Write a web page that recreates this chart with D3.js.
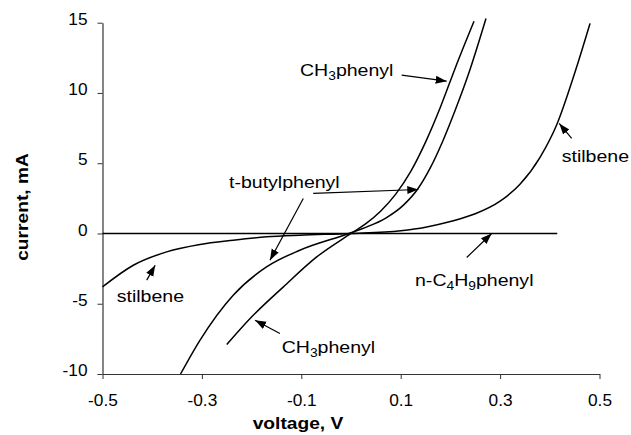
<!DOCTYPE html>
<html>
<head>
<meta charset="utf-8">
<script src="https://cdn.jsdelivr.net/npm/d3@7"></script>
<style>
  body { margin: 0; background: #fff; }
  svg { display: block; }
</style>
</head>
<body>
<svg id="chart" width="631" height="435"></svg>
<script>
// tick values
const xTicks = [-0.5, -0.3, -0.1, 0.1, 0.3, 0.5]
const yTicks = [-10, -5, 0, 5, 10, 15]

// CH3phenyl
const ch3V = [-0.25, -0.203, -0.136, -0.069, 0, 0.03, 0.06, 0.09, 0.12, 0.15, 0.18, 0.21, 0.2475]
const ch3I = [-7.9, -6.05, -3.8, -1.67, 0, 0.7, 1.6, 2.8, 4.4, 6.5, 9.0, 11.8, 15.1]

// t-butylphenyl
const tbuV = [-0.343, -0.304, -0.237, -0.17, -0.103, -0.004, 0.032, 0.07, 0.105, 0.135, 0.16, 0.185, 0.21, 0.235, 0.2716]
const tbuI = [-10, -7.6, -4.39, -2.38, -1.19, 0, 0.47, 1.1, 2.0, 3.2, 4.7, 6.6, 8.8, 11.2, 15.3]

// stilbene
const stilV = [-0.5, -0.438, -0.371, -0.304, -0.237, -0.17, -0.103, 0, 0.1, 0.15, 0.2, 0.25, 0.3, 0.34, 0.38, 0.415, 0.45, 0.481]
const stilI = [-3.8, -2.26, -1.31, -0.78, -0.48, -0.24, -0.12, 0, 0.2, 0.45, 0.85, 1.4, 2.3, 3.5, 5.4, 7.83, 11.4, 14.95]

// n-C4H9phenyl
const nbuV = [-0.5, -0.3, -0.1, 0.1, 0.3, 0.415]
const nbuI = [0, 0, 0, 0, 0, 0]

// labels: text parts ([string, isSub]), anchor in data units, arrows [from, to] in data units
const notes = [
  { parts: [['CH', 0], ['3', 1], ['phenyl', 0]], at: [-0.1026, 11.2], arrows: [[[0.102, 11.27], [0.1925, 10.84]]] },
  { parts: [['stilbene', 0]], at: [0.424, 5.07], arrows: [[[0.444, 6.76], [0.419, 7.83]]] },
  { parts: [['t-butylphenyl', 0]], at: [-0.2455, 3.27], arrows: [[[-0.096, 2.49], [-0.163, -1.9]], [[-0.076, 2.85], [0.1354, 3.13]]] },
  { parts: [['n-C', 0], ['4', 1], ['H', 0], ['9', 1], ['phenyl', 0]], at: [0.1288, -3.75], arrows: [[[0.2328, -1.71], [0.283, 0]]] },
  { parts: [['CH', 0], ['3', 1], ['phenyl', 0]], at: [-0.1394, -8.52], arrows: [[[-0.143, -7.12], [-0.193, -6.17]]] },
  { parts: [['stilbene', 0]], at: [-0.4714, -4.87], arrows: [[[-0.411, -3.32], [-0.394, -2.26]]] },
]

const font = "'Liberation Sans', Arial, Helvetica, sans-serif"
const svg = d3.select('#chart')

const x = d3.scaleLinear().domain([-0.5, 0.5]).range([102.5, 599.5])
const y = d3.scaleLinear().domain([-10, 15]).range([374, 22.7])

svg.append('defs')
  .append('marker')
  .attr('id', 'head')
  .attr('markerUnits', 'userSpaceOnUse')
  .attr('markerWidth', 12)
  .attr('markerHeight', 10)
  .attr('viewBox', '0 0 12 10')
  .attr('refX', 11)
  .attr('refY', 5)
  .attr('orient', 'auto')
  .append('path')
  .attr('d', 'M0,1 L11,5 L0,9 Z')
  .attr('fill', '#000')

// axes
let xAxis = svg.append('g')
  .attr('transform', 'translate(0,' + y(-10) + ')')
  .call(d3.axisBottom(x).tickValues(xTicks).tickSize(5).tickSizeOuter(0).tickPadding(16)
    .tickFormat(d => d.toFixed(1)))
let yAxis = svg.append('g')
  .attr('transform', 'translate(' + x(-0.5) + ',0)')
  .call(d3.axisLeft(y).tickValues(yTicks).tickSize(5).tickSizeOuter(0).tickPadding(10)
    .tickFormat(d => String(d)))

;[xAxis, yAxis].forEach(a => {
  a.select('.domain').attr('stroke', '#333').attr('stroke-width', 1.2)
  a.selectAll('.tick line').attr('stroke', '#333')
  a.selectAll('.tick text')
    .attr('fill', '#000')
    .style('font-family', font)
    .style('font-size', '16px')
})
xAxis.selectAll('.tick text').attr('transform', 'scale(1.08,1)')
yAxis.selectAll('.tick text')
  .attr('x', -15 / 1.08)
  .attr('dy', '0.1em')
  .attr('transform', 'scale(1.08,1)')

// axis titles
svg.append('text')
  .attr('transform', 'translate(298,429) scale(1.13,1)')
  .attr('text-anchor', 'middle')
  .style('font-family', font)
  .style('font-size', '17px')
  .style('font-weight', 'bold')
  .text('voltage, V')

svg.append('text')
  .attr('transform', 'translate(28,207) rotate(-90) scale(1.13,1)')
  .attr('text-anchor', 'middle')
  .style('font-family', font)
  .style('font-size', '17px')
  .style('font-weight', 'bold')
  .text('current, mA')

// curves
let line = d3.line()
  .curve(d3.curveMonotoneX)
  .x(d => x(d[0]))
  .y(d => y(d[1]))

let series = [
  [nbuV, nbuI],
  [stilV, stilI],
  [tbuV, tbuI],
  [ch3V, ch3I],
]

svg.append('g')
  .selectAll('path')
  .data(series)
  .enter()
  .append('path')
  .attr('d', s => line(s[0].map((v, i) => [v, s[1][i]])))
  .attr('fill', 'none')
  .attr('stroke', '#000')
  .attr('stroke-width', 1.5)

// annotations
let ann = svg.append('g')
notes.forEach(n => {
  n.arrows.forEach(a => {
    ann.append('line')
      .attr('x1', x(a[0][0]))
      .attr('y1', y(a[0][1]))
      .attr('x2', x(a[1][0]))
      .attr('y2', y(a[1][1]))
      .attr('stroke', '#000')
      .attr('stroke-width', 1.2)
      .attr('marker-end', 'url(#head)')
  })
  let t = ann.append('text')
    .attr('transform', 'translate(' + x(n.at[0]) + ',' + y(n.at[1]) + ') scale(1.15,1)')
    .style('font-family', font)
    .style('font-size', '17px')
  let down = false
  n.parts.forEach(p => {
    let ts = t.append('tspan').text(p[0])
    if (p[1]) {
      ts.style('font-size', '12px').attr('dy', 4)
      down = true
    } else if (down) {
      ts.attr('dy', -4)
      down = false
    }
  })
})
</script>
</body>
</html>
